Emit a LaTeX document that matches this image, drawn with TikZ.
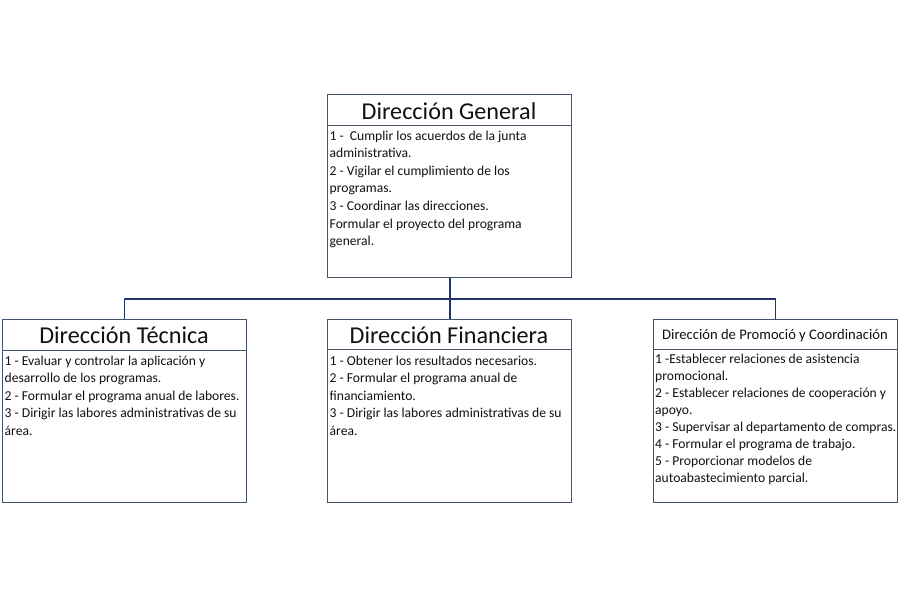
\documentclass[tikz,border=0pt]{standalone}
\usepackage{fontspec}
\setmainfont{Carlito}
\definecolor{boxline}{HTML}{44546A}
\definecolor{connline}{HTML}{24336E}
\definecolor{txt}{HTML}{111111}
\tikzset{
  orgbox/.style={draw=boxline, line width=1.1pt, minimum width=244pt, minimum height=183pt, inner sep=0pt, anchor=north west},
  divline/.style={draw=boxline, line width=0.8pt},
  titletext/.style={font=\fontsize{24.2}{28}\selectfont, anchor=base, inner sep=0pt, text=txt},
  smalltitle/.style={font=\fontsize{14.6}{17}\selectfont, anchor=base, inner sep=0pt, text=txt},
  bodyline/.style={font=\fontsize{13.6}{16}\selectfont, anchor=base west, inner sep=0pt, text=txt},
  conn/.style={draw=connline, line width=1.3pt}
}
\begin{document}
\begin{tikzpicture}[x=1pt,y=-1pt]
\useasboundingbox[fill=white] (0,0) rectangle (900,600);

% boxes
\node[orgbox] (gen)  at (327,94) {};
\node[orgbox] (tec)  at (2,319) {};
\node[orgbox] (fin)  at (327,319) {};
\node[orgbox] (prom) at (653,319) {};

% dividers
\draw[divline] (327,125) -- (571,125);
\draw[divline] (2,350) -- (246,350);
\draw[divline] (327,349.5) -- (571,349.5);
\draw[divline] (653,349) -- (897,349);

% titles
\node[titletext] (gen-t)  at (449,119) {Dirección General};
\node[titletext] (tec-t)  at (124,343.5) {Dirección Técnica};
\node[titletext] (fin-t)  at (449,343.5) {Dirección Financiera};
\node[smalltitle] (prom-t) at (775,339.5) {Dirección de Promoció y Coordinación};

% bodies
\foreach \t [count=\i] in {{1 -\ \ Cumplir los acuerdos de la junta},{administrativa.},{2 - Vigilar el cumplimiento de los},{programas.},{3 - Coordinar las direcciones.},{Formular el proyecto del programa},{general.}}
  \node[bodyline] (gen-\i) at (329.5,{140+(\i-1)*17.6}) {\t};

\foreach \t [count=\i] in {{1 - Evaluar y controlar la aplicación y},{desarrollo de los programas.},{2 - Formular el programa anual de labores.},{3 - Dirigir las labores administrativas de su},{área.}}
  \node[bodyline] (tec-\i) at (4.5,{365+(\i-1)*17.6}) {\t};

\foreach \t [count=\i] in {{1 - Obtener los resultados necesarios.},{2 - Formular el programa anual de},{financiamiento.},{3 - Dirigir las labores administrativas de su},{área.}}
  \node[bodyline] (fin-\i) at (329.5,{365+(\i-1)*17.6}) {\t};

\foreach \t [count=\i] in {{1 -Establecer relaciones de asistencia},{promocional.},{2 - Establecer relaciones de cooperación y},{apoyo.},{3 - Supervisar al departamento de compras.},{4 - Formular el programa de trabajo.},{5 - Proporcionar modelos de},{autoabastecimiento parcial.}}
  \node[bodyline] (prom-\i) at (655,{363+(\i-1)*17.1}) {\t};

% connectors
\coordinate (bus) at (450,299);
\draw[conn] (gen.south -| bus) -- (fin.north -| bus);
\draw[conn] (tec.north) |- (bus) -| (prom.north);
\end{tikzpicture}
\end{document}
